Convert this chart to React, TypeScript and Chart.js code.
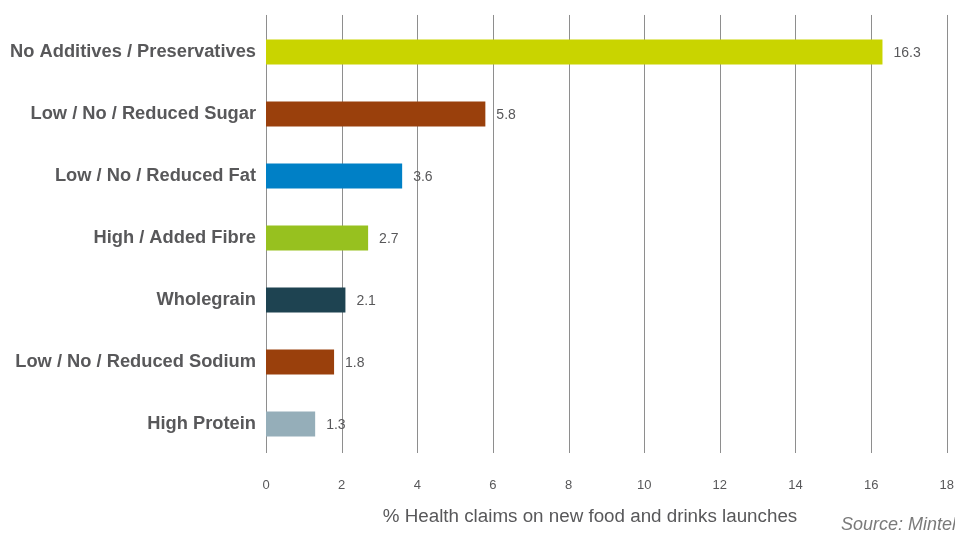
import React, { useEffect, useRef } from "react";
import { Chart, registerables } from "chart.js";

Chart.register(...registerables);

const categories: string[] = [
  "No Additives / Preservatives",
  "Low / No / Reduced Sugar",
  "Low / No / Reduced Fat",
  "High / Added Fibre",
  "Wholegrain",
  "Low / No / Reduced Sodium",
  "High Protein",
];
const values: number[] = [16.3, 5.8, 3.6, 2.7, 2.1, 1.8, 1.3];
const barColors: string[] = ["#C9D400", "#9A400C", "#0080C6", "#97C11F", "#1E4351", "#9A400C", "#95AEB9"];
const xMin = 0;
const xMax = 18;
const xStep = 2;
const axisTitle = "% Health claims on new food and drinks launches";
const sourceText = "Source: Mintel";

const FONT = "'Liberation Sans', Arial, Helvetica, sans-serif";
const TEXT = "#58585a";

const customPlugin = {
  id: "customDraw",
  beforeDatasetsDraw(chart: any) {
    const { ctx, chartArea, scales } = chart;
    const x = scales.x;
    ctx.save();
    ctx.strokeStyle = "#8e8e8e";
    ctx.lineWidth = 1;
    x.ticks.forEach((t: any) => {
      const px = Math.round(x.getPixelForValue(t.value)) + 0.5;
      ctx.beginPath();
      ctx.moveTo(px, chartArea.top - 6);
      ctx.lineTo(px, chartArea.bottom - 2);
      ctx.stroke();
    });
    ctx.restore();
  },
  afterDatasetsDraw(chart: any) {
    const { ctx } = chart;
    const meta = chart.getDatasetMeta(0);
    ctx.save();
    ctx.fillStyle = TEXT;
    ctx.font = `14px ${FONT}`;
    ctx.textAlign = "left";
    ctx.textBaseline = "middle";
    meta.data.forEach((bar: any, i: number) => {
      ctx.fillText(values[i].toFixed(1), bar.x + 11, bar.y + 1);
    });
    ctx.restore();
  },
  afterDraw(chart: any) {
    const { ctx } = chart;
    ctx.save();
    ctx.fillStyle = TEXT;
    ctx.font = `18.8px ${FONT}`;
    ctx.textAlign = "center";
    ctx.textBaseline = "alphabetic";
    ctx.fillText(axisTitle, 590, 522);
    ctx.fillStyle = "#7a7a7a";
    ctx.font = `italic 18px ${FONT}`;
    ctx.textAlign = "left";
    ctx.fillText(sourceText, 841, 530);
    ctx.restore();
  },
};

export default function App() {
  const canvasRef = useRef<HTMLCanvasElement | null>(null);

  useEffect(() => {
    if (!canvasRef.current) return;
    const chart = new Chart(canvasRef.current, {
      type: "bar",
      data: {
        labels: categories,
        datasets: [
          {
            data: values,
            backgroundColor: barColors,
            borderWidth: 0,
            categoryPercentage: 1,
            barPercentage: 0.4,
          },
        ],
      },
      options: {
        indexAxis: "y",
        animation: false,
        responsive: false,
        maintainAspectRatio: false,
        devicePixelRatio: 1,
        layout: { padding: { top: 20, right: 8, bottom: 0, left: 0 } },
        plugins: {
          legend: { display: false },
          tooltip: { enabled: false },
          title: { display: false },
        },
        scales: {
          x: {
            type: "linear",
            min: xMin,
            max: xMax,
            ticks: {
              stepSize: xStep,
              padding: 1,
              color: TEXT,
              font: { family: FONT, size: 13 },
            },
            grid: { display: false, drawTicks: true, tickLength: 22 },
            border: { display: false },
            afterFit: (scale: any) => {
              scale.height = 81;
            },
          },
          y: {
            type: "category",
            ticks: {
              padding: 10,
              color: TEXT,
              font: { family: FONT, size: 18.3, weight: "bold" },
            },
            grid: { display: false, drawTicks: false },
            border: { display: false },
            afterFit: (scale: any) => {
              scale.width = 266;
            },
          },
        },
      },
      plugins: [customPlugin],
    });
    return () => chart.destroy();
  }, []);

  return (
    <div style={{ position: "fixed", left: 0, top: 0, width: 955, height: 536, background: "#fff", overflow: "hidden" }}>
      <canvas ref={canvasRef} width={955} height={536} style={{ display: "block", width: 955, height: 536 }} />
    </div>
  );
}
